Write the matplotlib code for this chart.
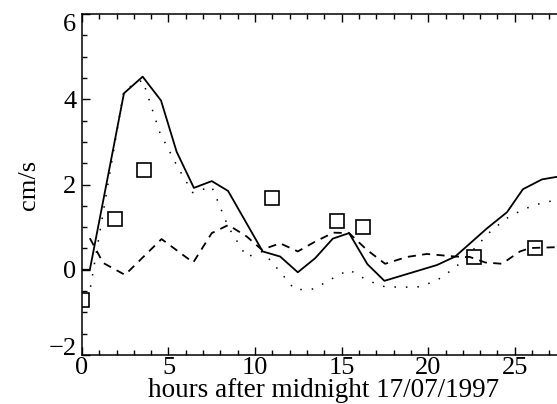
import matplotlib
matplotlib.use("Agg")
import matplotlib.pyplot as plt
from matplotlib.ticker import MultipleLocator
from matplotlib.transforms import ScaledTranslation

plt.rcParams['font.family'] = ['Liberation Serif', 'DejaVu Serif']

# Solid line (model 1)
hours_solid = [0.0, 0.46, 2.43, 3.51, 4.57, 5.47, 6.47, 7.5, 8.44, 10.44, 11.45, 12.47,
               13.47, 14.49, 15.43, 16.49, 17.47, 20.5, 21.56, 23.39, 24.55, 25.47, 26.57, 27.44]
solid = [0.0, 0.0, 4.14, 4.53, 3.97, 2.77, 1.92, 2.08, 1.85, 0.43, 0.31, -0.06,
         0.27, 0.73, 0.86, 0.13, -0.26, 0.11, 0.31, 0.97, 1.35, 1.89, 2.12, 2.18]

# Dashed line (model 2)
hours_dash = [0.46, 1.23, 2.49, 4.6, 6.43, 7.5, 8.46, 9.52, 10.39, 11.45, 12.47, 13.47,
              14.53, 15.43, 16.45, 17.51, 18.77, 19.92, 21.56, 22.4, 23.3, 24.26, 25.3, 25.9, 27.44]
dash = [0.74, 0.16, -0.12, 0.72, 0.17, 0.86, 1.05, 0.78, 0.47, 0.62, 0.43, 0.66,
        0.87, 0.86, 0.47, 0.14, 0.3, 0.37, 0.31, 0.3, 0.17, 0.14, 0.43, 0.51, 0.53]

# Dotted line (model 3)
hours_dot = [0.5, 2.43, 3.51, 4.5, 5.53, 6.4, 7.5, 8.46, 9.52, 10.44, 11.45, 12.3, 13.4,
             14.49, 15.43, 16.49, 17.5, 18.5, 19.5, 20.5, 21.56, 22.6, 23.6, 24.5, 25.5, 26.5, 27.44]
dot = [-0.4, 4.22, 4.45, 3.22, 2.41, 1.81, 1.95, 1.0, 0.3, 0.43, -0.05, -0.47, -0.45,
       -0.2, 0.0, -0.25, -0.4, -0.41, -0.4, -0.25, 0.05, 0.47, 0.9, 1.2, 1.42, 1.56, 1.64]

# Observations (squares)
obs_hours = [0.0, 1.91, 3.6, 11.0, 14.72, 16.26, 22.62, 26.14]
obs = [-0.7, 1.19, 2.34, 1.69, 1.14, 1.0, 0.3, 0.51]

y_ticks = [-2, 0, 2, 4, 6]
y_ticklabels = ['\u22122', '0', '2', '4', '6']

fig = plt.figure(figsize=(5.57, 4.04), dpi=100, facecolor='white')
ax = fig.add_axes([0.147, 0.1213, 0.868, 0.844])

ax.plot(hours_solid, solid, color='black', lw=1.3)
ax.plot(hours_dash, dash, color='black', lw=1.3, linestyle=(0, (4.5, 3.5)))
ax.plot(hours_dot, dot, color='black', lw=1.1, linestyle=(0, (1, 6.5)))
ax.plot(obs_hours, obs, linestyle='none', marker='s', markersize=10,
        markerfacecolor='none', markeredgecolor='black', markeredgewidth=1.2)

ax.set_xlim(0, 27.92)
ax.set_ylim(-2, 6)
ax.xaxis.set_major_locator(MultipleLocator(5))
ax.xaxis.set_minor_locator(MultipleLocator(1))
ax.yaxis.set_minor_locator(MultipleLocator(0.5))

ax.spines['right'].set_visible(False)
for s in ['left', 'top', 'bottom']:
    ax.spines[s].set_linewidth(1.1)

ax.tick_params(which='both', direction='in', top=True, right=False, width=1.0)
ax.tick_params(which='major', length=6)
ax.tick_params(which='minor', length=3.5)
ax.tick_params(axis='x', which='major', labelsize=19, pad=1.5)
ax.tick_params(axis='y', which='major', labelsize=19, pad=4)

ax.set_yticks(y_ticks)
ax.set_yticklabels(y_ticklabels)

# End labels shifted inward, as in the reference
yt = ax.yaxis.get_major_ticks()
yt[0].label1.set_verticalalignment('baseline')
yt[-1].label1.set_verticalalignment('baseline')
yt[-1].label1.set_transform(yt[-1].label1.get_transform() +
                            ScaledTranslation(0, -0.17, fig.dpi_scale_trans))

ax.set_xlabel('hours after midnight 17/07/1997', fontsize=19.5, labelpad=-0.5)
ax.set_ylabel('cm/s', fontsize=19, labelpad=6)

fig.savefig('out.png', dpi=100, facecolor='white')
